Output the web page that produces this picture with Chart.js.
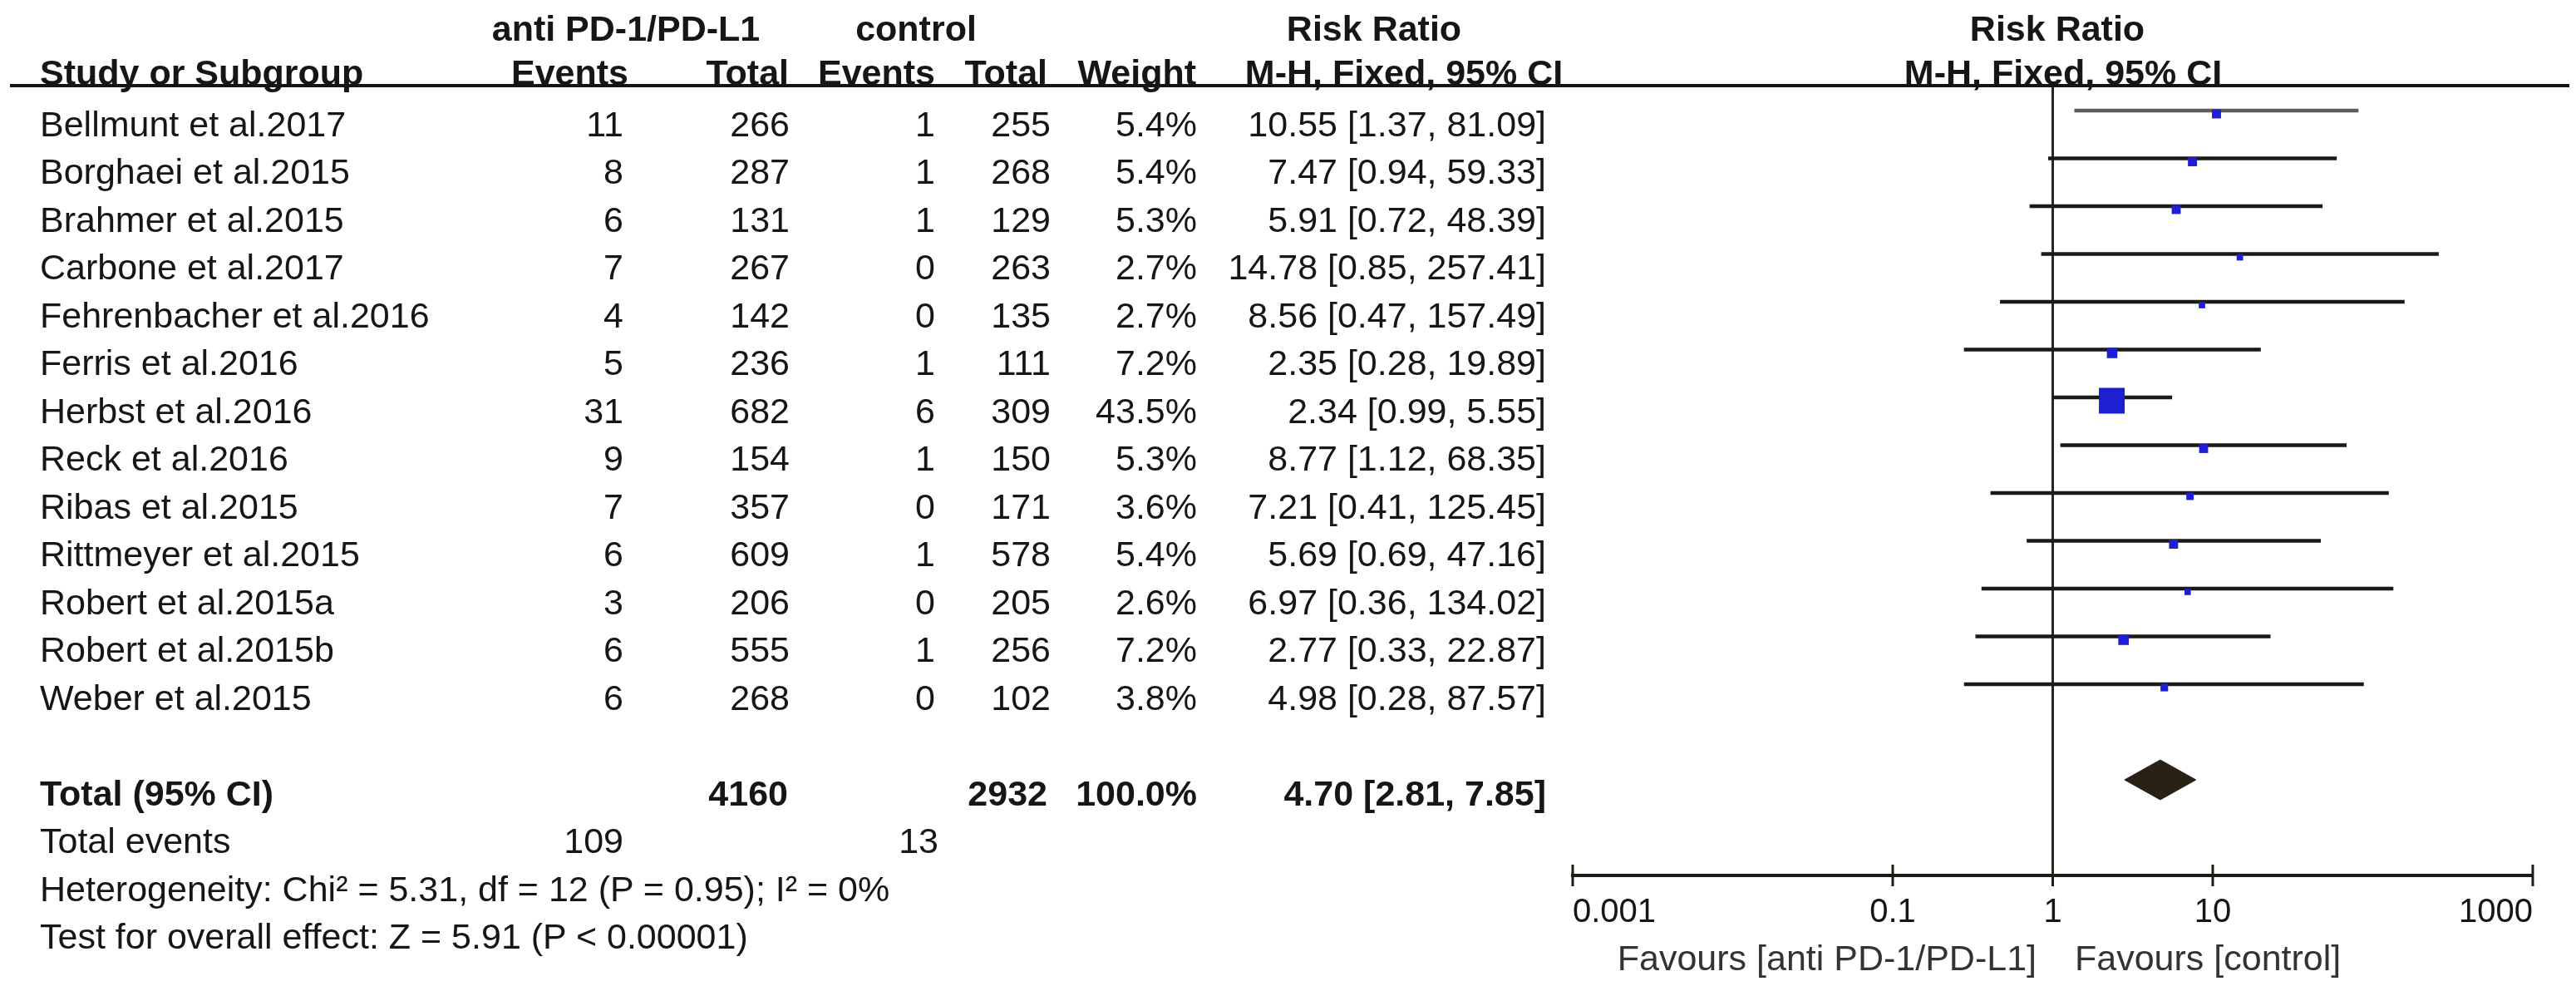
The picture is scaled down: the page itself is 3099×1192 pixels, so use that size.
<!DOCTYPE html>
<html>
<head>
<meta charset="utf-8">
<title>Risk Ratio forest plot</title>
<script src="https://cdn.jsdelivr.net/npm/chart.js@4.4.1/dist/chart.umd.min.js"></script>
<style>
  html, body { margin: 0; padding: 0; background: #fff; }
  #wrap { position: relative; width: 3099px; height: 1192px; overflow: hidden;
          font-family: "Liberation Sans", Arial, sans-serif; color: #161616; }
  #plot { position: absolute; left: 0; top: 0; }
  .t { position: absolute; font-size: 43px; line-height: 50px; white-space: nowrap; }
  .b { font-weight: bold; }
  .fav { color: #333; }
  #rule { position: absolute; left: 12px; top: 101px; width: 3079px; height: 4px; background: #141414; }
</style>
</head>
<body>
<div id="wrap">
  <canvas id="plot" width="3099" height="1192"></canvas>
  <div id="rule"></div>
</div>
<script>
// study data
const studies = ["Bellmunt et al.2017", "Borghaei et al.2015", "Brahmer et al.2015", "Carbone et al.2017",
  "Fehrenbacher et al.2016", "Ferris et al.2016", "Herbst et al.2016", "Reck et al.2016", "Ribas et al.2015",
  "Rittmeyer et al.2015", "Robert et al.2015a", "Robert et al.2015b", "Weber et al.2015"];
const expEvents = [11, 8, 6, 7, 4, 5, 31, 9, 7, 6, 3, 6, 6];
const expTotal  = [266, 287, 131, 267, 142, 236, 682, 154, 357, 609, 206, 555, 268];
const ctlEvents = [1, 1, 1, 0, 0, 1, 6, 1, 0, 1, 0, 1, 0];
const ctlTotal  = [255, 268, 129, 263, 135, 111, 309, 150, 171, 578, 205, 256, 102];
const weights   = [5.4, 5.4, 5.3, 2.7, 2.7, 7.2, 43.5, 5.3, 3.6, 5.4, 2.6, 7.2, 3.8];
const riskRatio = [10.55, 7.47, 5.91, 14.78, 8.56, 2.35, 2.34, 8.77, 7.21, 5.69, 6.97, 2.77, 4.98];
const ciLow     = [1.37, 0.94, 0.72, 0.85, 0.47, 0.28, 0.99, 1.12, 0.41, 0.69, 0.36, 0.33, 0.28];
const ciHigh    = [81.09, 59.33, 48.39, 257.41, 157.49, 19.89, 5.55, 68.35, 125.45, 47.16, 134.02, 22.87, 87.57];
const pooled    = { low: 2.81, est: 4.70, high: 7.85, weight: 100.0 };
const axisTicks = [0.001, 0.1, 1, 10, 1000];
const heterogeneity = "Heterogeneity: Chi\u00b2 = 5.31, df = 12 (P = 0.95); I\u00b2 = 0%";
const overallTest = "Test for overall effect: Z = 5.91 (P < 0.00001)";

// layout
const ROW_H = 57.5;        // px between rows
const LINE_Y0 = 133;       // px of first CI line
const TEXT_Y0 = 148;       // px of first text row (cap centre)
const AREA_TOP = 103, AREA_BOTTOM = 1053;
const TOTAL_ROW = 14;

const wrap = document.getElementById('wrap');
function put(text, x, cy, align, cls) {
  const d = document.createElement('div');
  d.className = 't' + (cls ? ' ' + cls : '');
  d.textContent = text;
  d.style.left = x + 'px';
  d.style.top = (cy - 24.5) + 'px';
  const tx = align === 'right' ? 'translateX(-100%)' : align === 'center' ? 'translateX(-50%)' : '';
  if (tx) d.style.transform = tx;
  wrap.appendChild(d);
}
const rowY = i => TEXT_Y0 + i * ROW_H;
const fmt = v => v.toFixed(2);

// headers
put("anti PD-1/PD-L1", 753, 33, 'center', 'b');
put("control", 1102, 33, 'center', 'b');
put("Risk Ratio", 1653, 33, 'center', 'b');
put("Risk Ratio", 2475, 33, 'center', 'b');
put("Study or Subgroup", 48, 86, 'left', 'b');
put("Events", 756, 86, 'right', 'b');
put("Total", 949, 86, 'right', 'b');
put("Events", 1125, 86, 'right', 'b');
put("Total", 1260, 86, 'right', 'b');
put("Weight", 1439, 86, 'right', 'b');
put("M-H, Fixed, 95% CI", 1689, 86, 'center', 'b');
put("M-H, Fixed, 95% CI", 2482, 86, 'center', 'b');

// study rows
studies.forEach((s, i) => {
  const y = rowY(i);
  put(s, 48, y, 'left');
  put(String(expEvents[i]), 750, y, 'right');
  put(String(expTotal[i]), 950, y, 'right');
  put(String(ctlEvents[i]), 1125, y, 'right');
  put(String(ctlTotal[i]), 1264, y, 'right');
  put(weights[i].toFixed(1) + '%', 1440, y, 'right');
  put(fmt(riskRatio[i]) + ' [' + fmt(ciLow[i]) + ', ' + fmt(ciHigh[i]) + ']', 1860, y, 'right');
});

// totals
const sum = a => a.reduce((p, c) => p + c, 0);
put("Total (95% CI)", 48, rowY(TOTAL_ROW), 'left', 'b');
put(String(sum(expTotal)), 948, rowY(TOTAL_ROW), 'right', 'b');
put(String(sum(ctlTotal)), 1260, rowY(TOTAL_ROW), 'right', 'b');
put(pooled.weight.toFixed(1) + '%', 1440, rowY(TOTAL_ROW), 'right', 'b');
put(fmt(pooled.est) + ' [' + fmt(pooled.low) + ', ' + fmt(pooled.high) + ']', 1860, rowY(TOTAL_ROW), 'right', 'b');
put("Total events", 48, rowY(15), 'left');
put(String(sum(expEvents)), 750, rowY(15), 'right');
put(String(sum(ctlEvents)), 1129, rowY(15), 'right');
put(heterogeneity, 48, rowY(16), 'left');
put(overallTest, 48, rowY(17), 'left');

put("Favours [anti PD-1/PD-L1]", 2450, 1151, 'right', 'fav');
put("Favours [control]", 2496, 1151, 'left', 'fav');

// forest plot
const yMin = -(LINE_Y0 - AREA_TOP) / ROW_H;
const yMax = yMin + (AREA_BOTTOM - AREA_TOP) / ROW_H;
const diamondHalf = 24 / ROW_H;
const squareDrop = 4 / ROW_H;
const idx = studies.map((_, i) => i);

new Chart(document.getElementById('plot'), {
  type: 'scatter',
  data: {
    datasets: [
      {
        // weighted squares
        type: 'scatter',
        order: 0,
        data: idx.map(i => ({ x: riskRatio[i], y: i + squareDrop })),
        pointStyle: 'rect',
        pointRadius: weights.map(w => 31 * Math.sqrt(w / 43.5) / Math.SQRT2),
        backgroundColor: '#1e1ed2',
        borderWidth: 0
      },
      {
        // pooled estimate
        type: 'scatter',
        order: 1,
        showLine: true,
        fill: 'shape',
        data: [
          { x: pooled.low, y: TOTAL_ROW },
          { x: pooled.est, y: TOTAL_ROW - diamondHalf },
          { x: pooled.high, y: TOTAL_ROW },
          { x: pooled.est, y: TOTAL_ROW + diamondHalf },
          { x: pooled.low, y: TOTAL_ROW }
        ],
        borderColor: '#2a2116',
        backgroundColor: '#2a2116',
        borderWidth: 1,
        pointRadius: 0,
        tension: 0
      },
      {
        // confidence intervals
        type: 'bar',
        order: 2,
        indexAxis: 'y',
        grouped: false,
        data: idx.map(i => ({ x: [ciLow[i], ciHigh[i]], y: i })),
        barThickness: 4,
        backgroundColor: idx.map(i => i === 0 ? '#5e5b55' : '#1c1a17'),
        borderWidth: 0
      },
      {
        // line of no effect
        type: 'scatter',
        order: 3,
        showLine: true,
        data: [{ x: 1, y: yMin }, { x: 1, y: yMax }],
        borderColor: '#2a2520',
        borderWidth: 3,
        pointRadius: 0
      },
      {
        // tick marks crossing the axis
        type: 'scatter',
        order: 4,
        clip: false,
        data: axisTicks.map(v => ({ x: v, y: yMax })),
        pointStyle: 'line',
        rotation: 90,
        pointRadius: 13,
        borderColor: '#1e1a14',
        borderWidth: 3
      }
    ]
  },
  options: {
    responsive: false,
    animation: false,
    events: [],
    layout: { padding: { left: 1892, right: 52, top: AREA_TOP, bottom: 0 } },
    plugins: { legend: { display: false }, tooltip: { enabled: false } },
    scales: {
      x: {
        type: 'logarithmic',
        min: 0.001,
        max: 1000,
        offset: false,
        afterBuildTicks: axis => { axis.ticks = axisTicks.map(v => ({ value: v })); },
        afterFit: axis => { axis.height = 1192 - AREA_BOTTOM; },
        grid: { display: false, drawTicks: false },
        border: { display: true, color: '#1e1a14', width: 4 },
        ticks: {
          align: 'inner',
          padding: 21,
          color: '#161616',
          font: { family: '"Liberation Sans", Arial, sans-serif', size: 40 },
          callback: v => String(v)
        }
      },
      y: {
        type: 'linear',
        display: false,
        reverse: true,
        offset: false,
        min: yMin,
        max: yMax
      }
    }
  }
});
</script>
</body>
</html>
